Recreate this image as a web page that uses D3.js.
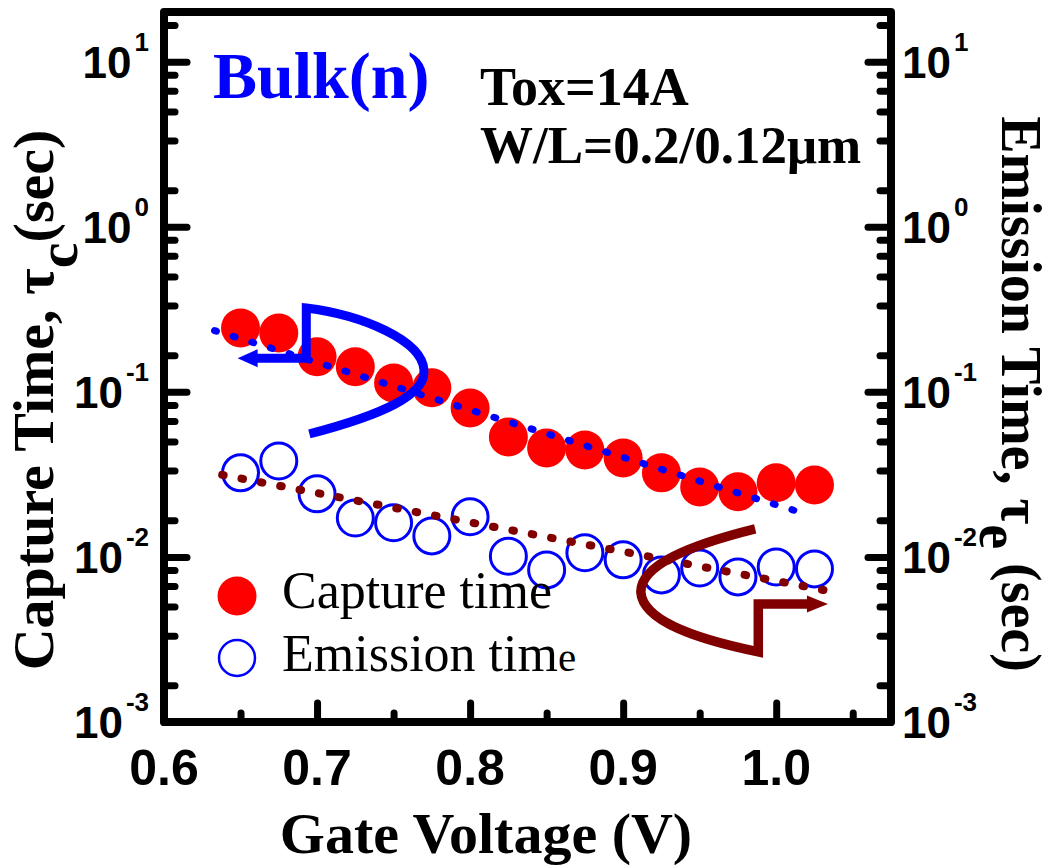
<!DOCTYPE html>
<html>
<head>
<meta charset="utf-8">
<script src="https://cdn.jsdelivr.net/npm/d3@7"></script>
<style>
  body { margin: 0; background: #fff; }
  svg { display: block; }
</style>
</head>
<body>
<div id="chart"></div>
<script>
// values
const voltage = [0.65, 0.675, 0.7, 0.725, 0.75, 0.775, 0.8, 0.825, 0.85, 0.875, 0.9, 0.925, 0.95, 0.975, 1.0, 1.025];
const captureTime = [0.244, 0.227, 0.163, 0.142, 0.113, 0.106, 0.0798, 0.0533, 0.0457, 0.0445, 0.0398, 0.0323, 0.0265, 0.0248, 0.0281, 0.0273];
const emissionTime = [0.0323, 0.0381, 0.0241, 0.0172, 0.0161, 0.0134, 0.0175, 0.0101, 0.00834, 0.0106, 0.0096, 0.00778, 0.00857, 0.00757, 0.00869, 0.00846];

// exponential fits (end points)
const captureFit = [[0.633, 0.235], [1.021, 0.0180]];
const emissionFit = [[0.638, 0.0314], [1.041, 0.00605]];

// arrow guides: start, ctrl, ctrl, end, ctrl, ctrl, corner, corner, shaft end, tip
const captureArrow = [[0.695, 0.0556], [0.7424, 0.0724], [0.7717, 0.0958], [0.7698, 0.136],
  [0.7685, 0.206], [0.7294, 0.292], [0.693, 0.322], [0.693, 0.160], [0.6592, 0.160], [0.6481, 0.160]];
const emissionArrow = [[0.9863, 0.01479], [0.9441, 0.01183], [0.9115, 0.00895], [0.9115, 0.00614],
  [0.9128, 0.00404], [0.9506, 0.00314], [0.9883, 0.00266], [0.9883, 0.00519], [1.0221, 0.00519], [1.0338, 0.00519]];

const xMajor = [0.6, 0.7, 0.8, 0.9, 1.0];
const xLabels = ["0.6", "0.7", "0.8", "0.9", "1.0"];
const xMinor = [0.65, 0.75, 0.85, 0.95, 1.05];
const yMajor = [1e-3, 1e-2, 1e-1, 1, 10];
const yExp = ["-3", "-2", "-1", "0", "1"];
const minorSteps = [1.667, 3.333, 5, 6.667, 8.333];

const W = 1053, H = 867;
const m = { left: 164, right: 891, top: 12, bottom: 722 };

const svg = d3.select("#chart").append("svg")
  .attr("width", W).attr("height", H);

const x = d3.scaleLinear().domain([0.6, 1.075]).range([m.left, m.right]);
const y = d3.scaleLog().domain([1e-3, 20]).range([m.bottom, m.top]);

const yMinor = [];
yMajor.forEach(d => minorSteps.forEach(s => { if (d * s <= 20) yMinor.push(d * s); }));

const sans = "'Liberation Sans', Arial, sans-serif";
const serif = "'Liberation Serif', 'Times New Roman', serif";

// ticks via d3 axes
function styleAxis(g) {
  g.select(".domain").remove();
  g.selectAll(".tick line").attr("stroke", "#000").attr("stroke-width", 7).attr("stroke-linecap", "round");
  g.selectAll(".tick text").remove();
}
svg.append("g").attr("transform", `translate(0,${m.bottom})`)
  .call(d3.axisBottom(x).tickValues(xMajor).tickSize(-19).tickFormat("")).call(styleAxis);
svg.append("g").attr("transform", `translate(0,${m.bottom})`)
  .call(d3.axisBottom(x).tickValues(xMinor).tickSize(-9).tickFormat("")).call(styleAxis);
svg.append("g").attr("transform", `translate(${m.left},0)`)
  .call(d3.axisLeft(y).tickValues(yMajor).tickSize(-23).tickFormat("")).call(styleAxis);
svg.append("g").attr("transform", `translate(${m.left},0)`)
  .call(d3.axisLeft(y).tickValues(yMinor).tickSize(-11).tickFormat("")).call(styleAxis);
svg.append("g").attr("transform", `translate(${m.right},0)`)
  .call(d3.axisRight(y).tickValues(yMajor).tickSize(-23).tickFormat("")).call(styleAxis);
svg.append("g").attr("transform", `translate(${m.right},0)`)
  .call(d3.axisRight(y).tickValues(yMinor).tickSize(-11).tickFormat("")).call(styleAxis);

// frame
svg.append("rect")
  .attr("x", m.left).attr("y", m.top)
  .attr("width", m.right - m.left).attr("height", m.bottom - m.top)
  .attr("fill", "none").attr("stroke", "#000").attr("stroke-width", 8)
  .attr("stroke-linejoin", "round");

// x tick labels
svg.selectAll(".xlab").data(xMajor).enter().append("text")
  .attr("x", d => x(d)).attr("y", 785)
  .attr("text-anchor", "middle")
  .style("font-family", sans).style("font-weight", "bold").style("font-size", "50px")
  .text((d, i) => xLabels[i]);

// y tick labels, both sides
function yLabels(xpos, anchor) {
  const t = svg.selectAll(null).data(yMajor).enter().append("text")
    .attr("x", xpos).attr("y", d => y(d) + 16)
    .attr("text-anchor", anchor)
    .style("font-family", sans).style("font-weight", "bold");
  t.append("tspan").style("font-size", "44px").text("10");
  t.append("tspan").attr("dy", -27).attr("dx", 3).style("font-size", "26px").text((d, i) => yExp[i]);
}
yLabels(149, "end");
yLabels(902, "start");

// data
svg.selectAll(".cap").data(voltage).enter().append("circle")
  .attr("cx", d => x(d)).attr("cy", (d, i) => y(captureTime[i]))
  .attr("r", 19.5).attr("fill", "#ff0000");

svg.selectAll(".emi").data(voltage).enter().append("circle")
  .attr("cx", d => x(d)).attr("cy", (d, i) => y(emissionTime[i]))
  .attr("r", 18).attr("fill", "none").attr("stroke", "#0000ff").attr("stroke-width", 3);

// dotted fits
const fitLine = d3.line().x(d => x(d[0])).y(d => y(d[1]));
svg.append("path").attr("d", fitLine(captureFit))
  .attr("fill", "none").attr("stroke", "#0000ff").attr("stroke-width", 7)
  .attr("stroke-linecap", "round").attr("stroke-dasharray", "2 17.5");
svg.append("path").attr("d", fitLine(emissionFit))
  .attr("fill", "none").attr("stroke", "#800000").attr("stroke-width", 8)
  .attr("stroke-linecap", "round").attr("stroke-dasharray", "1.5 18.2");

// arrows
function arrowPath(pts) {
  const p = pts.map(d => [x(d[0]), y(d[1])].map(v => v.toFixed(1)).join(","));
  return `M${p[0]}C${p[1]} ${p[2]} ${p[3]}C${p[4]} ${p[5]} ${p[6]}L${p[7]}L${p[8]}`;
}
function arrowHead(pts, dir, len, half) {
  const tx = x(pts[9][0]), ty = y(pts[9][1]);
  const bx = tx - dir * len;
  return [[tx, ty], [bx, ty - half], [bx, ty + half]].map(d => d.join(",")).join(" ");
}
svg.append("path").attr("d", arrowPath(captureArrow))
  .attr("fill", "none").attr("stroke", "#0000ff").attr("stroke-width", 9).attr("stroke-linejoin", "miter");
svg.append("polygon").attr("points", arrowHead(captureArrow, -1, 20, 9)).attr("fill", "#0000ff");
svg.append("path").attr("d", arrowPath(emissionArrow))
  .attr("fill", "none").attr("stroke", "#800000").attr("stroke-width", 9.5).attr("stroke-linejoin", "miter");
svg.append("polygon").attr("points", arrowHead(emissionArrow, 1, 21, 8.5)).attr("fill", "#800000");

// legend
svg.append("circle").attr("cx", 237).attr("cy", 596).attr("r", 19.5).attr("fill", "#ff0000");
svg.append("circle").attr("cx", 237).attr("cy", 658).attr("r", 18)
  .attr("fill", "none").attr("stroke", "#0000ff").attr("stroke-width", 2.5);
svg.append("text").attr("x", 282).attr("y", 608)
  .style("font-family", serif).style("font-size", "52px").text("Capture time");
const emiText = svg.append("text").attr("x", 282).attr("y", 671)
  .style("font-family", serif).style("font-size", "52px");
emiText.append("tspan").text("Emission tim");
emiText.append("tspan").style("font-size", "41px").text("e");

// annotations
svg.append("text").attr("x", 213).attr("y", 98)
  .style("font-family", serif).style("font-weight", "bold").style("font-size", "66px")
  .attr("fill", "#0000ff").text("Bulk(n)");
svg.append("text").attr("x", 480).attr("y", 105)
  .style("font-family", serif).style("font-weight", "bold").style("font-size", "54px")
  .text("Tox=14A");
svg.append("text").attr("x", 480).attr("y", 163)
  .style("font-family", serif).style("font-weight", "bold").style("font-size", "53px")
  .text("W/L=0.2/0.12μm");

// axis titles
svg.append("text").attr("x", 486).attr("y", 853)
  .attr("text-anchor", "middle")
  .style("font-family", serif).style("font-weight", "bold").style("font-size", "58px")
  .text("Gate Voltage (V)");

const yl = svg.append("text").attr("transform", "translate(53,400) rotate(-90)")
  .attr("text-anchor", "middle")
  .style("font-family", serif).style("font-weight", "bold").style("font-size", "58px");
yl.append("tspan").text("Capture Time, τ");
yl.append("tspan").attr("dy", 24).text("c");
yl.append("tspan").attr("dy", -24).text("(sec)");

const yr = svg.append("text").attr("transform", "translate(1002,394) rotate(90)")
  .attr("text-anchor", "middle")
  .style("font-family", serif).style("font-weight", "bold").style("font-size", "56px");
yr.append("tspan").text("Emission Time, τ");
yr.append("tspan").attr("dy", 22).text("e");
yr.append("tspan").attr("dy", -22).text(" (sec)");
</script>
</body>
</html>
